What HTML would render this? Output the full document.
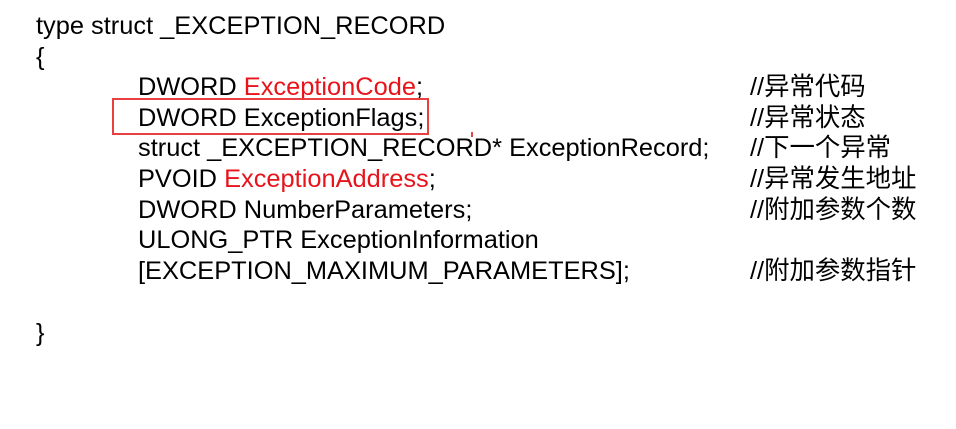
<!DOCTYPE html>
<html><head><meta charset="utf-8"><style>
body{margin:0;width:956px;height:429px;background:#fff;position:relative;overflow:hidden;font-family:"Liberation Sans","Noto Sans CJK SC",sans-serif;font-size:25.4px;color:#000}
.l{position:absolute;line-height:30px;white-space:pre}
.r{color:#e8141b}
</style></head><body>
<div class="l" style="left:36px;top:11px">type struct _EXCEPTION_RECORD</div>
<div class="l" style="left:36px;top:42px">{</div>
<div class="l" style="left:138px;top:72px">DWORD <span class="r">ExceptionCode</span>;</div>
<div class="l" style="left:138px;top:103px">DWORD ExceptionFlags;</div>
<div class="l" style="left:138px;top:133px">struct _EXCEPTION_RECORD* ExceptionRecord;</div>
<div class="l" style="left:138px;top:164px">PVOID <span class="r">ExceptionAddress</span>;</div>
<div class="l" style="left:138px;top:195px">DWORD NumberParameters;</div>
<div class="l" style="left:138px;top:225px">ULONG_PTR ExceptionInformation</div>
<div class="l" style="left:138px;top:256px">[EXCEPTION_MAXIMUM_PARAMETERS];</div>
<div class="l" style="left:750px;top:72px">//异常代码</div>
<div class="l" style="left:750px;top:103px">//异常状态</div>
<div class="l" style="left:750px;top:133px">//下一个异常</div>
<div class="l" style="left:750px;top:164px">//异常发生地址</div>
<div class="l" style="left:750px;top:195px">//附加参数个数</div>
<div class="l" style="left:750px;top:256px">//附加参数指针</div>
<div class="l" style="left:36px;top:318px">}</div>
<div style="position:absolute;left:112px;top:98px;width:313px;height:33px;border:2px solid #e84040"></div>
<div style="position:absolute;left:471px;top:132px;width:2px;height:5px;background:#e84040"></div>
</body></html>
